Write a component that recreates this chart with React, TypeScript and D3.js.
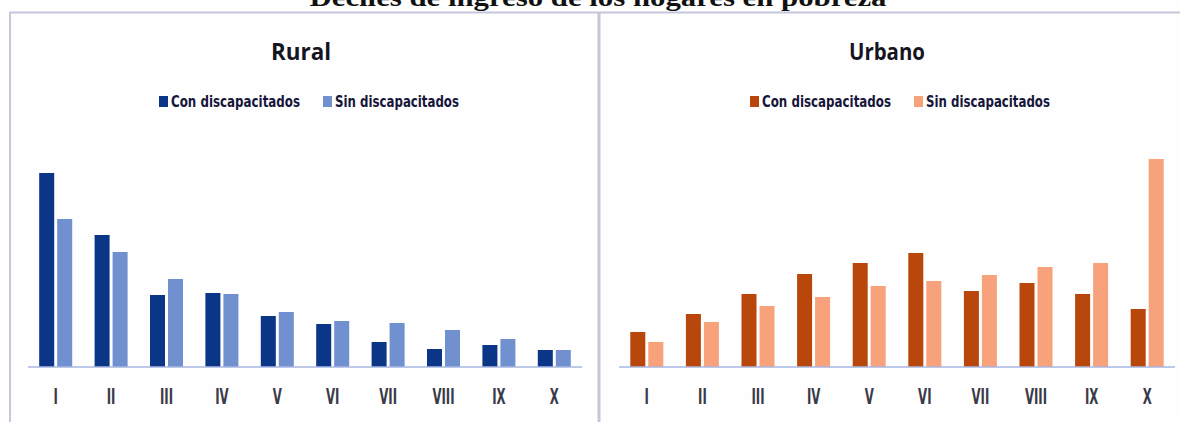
import React from "react";
import * as d3 from "d3";

const deciles = ["I", "II", "III", "IV", "V", "VI", "VII", "VIII", "IX", "X"];
const seriesNames = ["Con discapacitados", "Sin discapacitados"];
const ruralCon = [19.4, 13.2, 7.2, 7.4, 5.1, 4.3, 2.5, 1.8, 2.2, 1.7];
const ruralSin = [14.8, 11.5, 8.8, 7.3, 5.5, 4.6, 4.4, 3.7, 2.8, 1.7];
const urbanoCon = [3.5, 5.3, 7.3, 9.3, 10.4, 11.4, 7.6, 8.4, 7.3, 5.8];
const urbanoSin = [2.5, 4.5, 6.1, 7.0, 8.1, 8.6, 9.2, 10.0, 10.4, 20.8];

const W = 1180;
const H = 422;
const condensed = "'Liberation Sans Narrow', 'DejaVu Sans Condensed', 'Arial Narrow', sans-serif";

type PanelProps = {
  title: string;
  titleX: number;
  con: number[];
  sin: number[];
  colors: [string, string];
  x0: number;
  x1: number;
  legendX: number;
};

function Panel({ title, titleX, con, sin, colors, x0, x1, legendX }: PanelProps) {
  const y = d3.scaleLinear().domain([0, 20]).range([367, 167]);
  const xb = d3.scaleBand<string>().domain(deciles).range([x0, x1]).paddingInner(0).paddingOuter(0);
  const groupW = 33;
  const xi = d3.scaleBand<string>().domain(["con", "sin"]).range([0, groupW]).paddingInner(3 / 18).paddingOuter(0);
  const off = (xb.bandwidth() - groupW) / 2;
  const data = [con, sin];
  const keys = ["con", "sin"];
  const legendW = [129, 124];
  return (
    <g>
      <text x={titleX} y={60} textAnchor="middle" fontFamily="'Open Sans', Lato, sans-serif" fontWeight={700}
        fontSize={24} fill="#151522" textLength={title === "Rural" ? 60 : 76} lengthAdjust="spacingAndGlyphs">
        {title}
      </text>
      {seriesNames.map((s, i) => (
        <g key={s} transform={`translate(${legendX + i * 164},0)`}>
          <rect x={0} y={96} width={9} height={11} fill={colors[i]} />
          <text x={12} y={107} fontFamily={condensed} fontWeight={700} fontSize={15} fill="#16163a"
            textLength={legendW[i]} lengthAdjust="spacingAndGlyphs">
            {s}
          </text>
        </g>
      ))}
      {keys.map((k, si) =>
        deciles.map((d, i) => (
          <rect key={k + d} x={(xb(d) as number) + off + (xi(k) as number)} y={y(data[si][i])}
            width={xi.bandwidth()} height={y(0) - y(data[si][i])} fill={colors[si]} />
        ))
      )}
      <line x1={x0} x2={x1} y1={y(0)} y2={y(0)} stroke="#a9b6e2" strokeWidth={1.5} />
      {deciles.map((d) => (
        <text key={d} transform={`translate(${(xb(d) as number) + xb.bandwidth() / 2},404) scale(0.62,1)`}
          textAnchor="middle" fontFamily={condensed} fontWeight={700} fontSize={21} fill="#3a3a48">
          {d}
        </text>
      ))}
    </g>
  );
}

export default function App() {
  return (
    <svg width={W} height={H} style={{ position: "absolute", left: 0, top: 0, background: "#fefefe" }}>
      <text x={598} y={6} textAnchor="middle" fontFamily="'Liberation Serif', 'Times New Roman', serif"
        fontWeight={700} fontSize={25} fill="#111" textLength={577} lengthAdjust="spacingAndGlyphs">
        Deciles de ingreso de los hogares en pobreza
      </text>
      <line x1={10} x2={W} y1={12.5} y2={12.5} stroke="#c4c6dc" strokeWidth={2} />
      <line x1={10} x2={10} y1={12} y2={H} stroke="#c8c8d8" strokeWidth={2} />
      <line x1={599} x2={599} y1={12} y2={H} stroke="#c6c6d4" strokeWidth={3} />
      <Panel title="Rural" titleX={301} con={ruralCon} sin={ruralSin} colors={["#0b3586", "#7090cf"]}
        x0={28} x1={582} legendX={159} />
      <Panel title="Urbano" titleX={887} con={urbanoCon} sin={urbanoSin} colors={["#b9470c", "#f8a27c"]}
        x0={619} x1={1175} legendX={750} />
    </svg>
  );
}
